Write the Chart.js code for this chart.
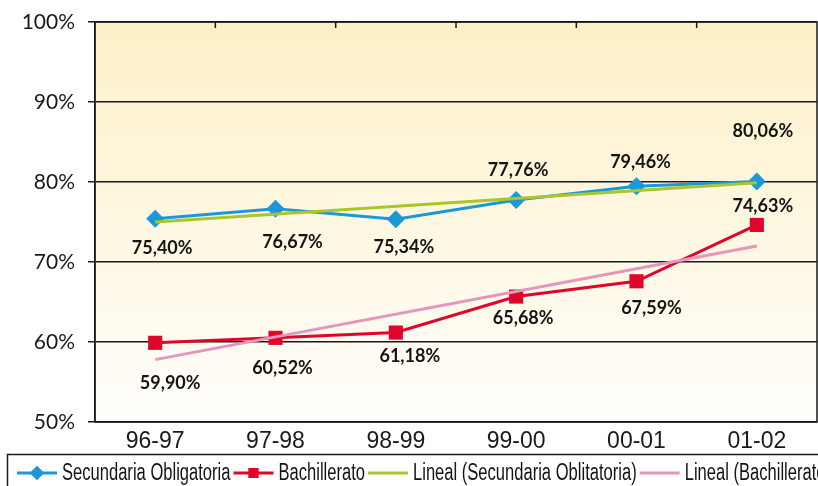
<!DOCTYPE html>
<html>
<head>
<meta charset="utf-8">
<script src="https://cdn.jsdelivr.net/npm/chart.js@4"></script>
<style>
  html, body { margin: 0; padding: 0; background: #fff; }
  #wrap { width: 818px; height: 486px; }
</style>
</head>
<body>
<div id="wrap"><canvas id="chart" width="818" height="486"></canvas></div>
<script>
const CURSOS = ["96-97", "97-98", "98-99", "99-00", "00-01", "01-02"];
const SECUNDARIA = [75.40, 76.67, 75.34, 77.76, 79.46, 80.06];
const BACHILLERATO = [59.90, 60.52, 61.18, 65.68, 67.59, 74.63];
// líneas de tendencia: sólo los extremos
const TEND_SECUNDARIA = [75.0, null, null, null, null, 79.9];
const TEND_BACHILLERATO = [57.8, null, null, null, null, 72.0];
const Y_MIN = 50, Y_MAX = 100, Y_PASO = 10;

const FUENTE = "'Liberation Sans', Arial, sans-serif";

/** Formato español: 75,40% */
function fmtPct(v){
  return v.toFixed(2).replace(".", ",") + "%";
}

/** Fondo degradado amarillo del área de trazado */
const fondo = {
  id: "fondo",
  beforeDraw(chart){
    const { ctx, chartArea: a } = chart;
    const g = ctx.createLinearGradient(0, a.top, 0, a.bottom);
    g.addColorStop(0, "#fdf0c7");
    g.addColorStop(1, "#fffefb");
    ctx.save();
    ctx.fillStyle = g;
    ctx.fillRect(a.left, a.top, a.right - a.left, a.bottom - a.top);
    ctx.restore();
  }
};

/** Marco + marcas superiores entre categorías */
const marco = {
  id: "marco",
  beforeDatasetsDraw(chart){
    const { ctx, chartArea: a, scales: { x } } = chart;
    ctx.save();
    ctx.strokeStyle = "#1a1a1a";
    ctx.lineWidth = 1.5;
    ctx.strokeRect(a.left, a.top, a.right - a.left, a.bottom - a.top);
    ctx.beginPath();
    for (let i = 1; i < CURSOS.length; i++){
      const px = (x.getPixelForValue(i - 1) + x.getPixelForValue(i)) / 2;
      ctx.moveTo(px, a.top);
      ctx.lineTo(px, a.top + 6);
    }
    ctx.stroke();
    ctx.restore();
  }
};

/** Etiquetas de datos con desplazamiento por punto */
const etiquetas = {
  id: "etiquetas",
  afterDatasetsDraw(chart){
    const { ctx } = chart;
    ctx.save();
    ctx.font = "bold 18px Lato, 'DejaVu Sans', sans-serif";
    ctx.fillStyle = "#141414";
    ctx.textAlign = "center";
    ctx.textBaseline = "middle";
    chart.data.datasets.forEach((ds, i) => {
      if (!ds.desplaz) return;
      const meta = chart.getDatasetMeta(i);
      meta.data.forEach((pt, j) => {
        const [dx, dy] = ds.desplaz[j];
        ctx.fillText(fmtPct(ds.data[j]), pt.x + dx, pt.y + dy);
      });
    });
    ctx.restore();
  }
};

/** Leyenda con recuadro, al estilo de Excel (texto estrechado) */
const leyenda = {
  id: "leyenda",
  afterDraw(chart){
    const { ctx } = chart;
    const top = 454, cy = 473;
    const estrecho = 0.72;
    ctx.save();
    ctx.strokeStyle = "#1a1a1a";
    ctx.lineWidth = 1.5;
    ctx.strokeRect(7.5, top + 0.5, 840, 40);
    ctx.font = "23px " + FUENTE;
    ctx.textBaseline = "middle";
    ctx.textAlign = "left";
    let x = 17;
    chart.data.datasets.slice().sort((a, b) => a.leyendaOrden - b.leyendaOrden).forEach(ds => {
      ctx.strokeStyle = ds.borderColor;
      ctx.lineWidth = 3;
      ctx.beginPath();
      ctx.moveTo(x, cy);
      ctx.lineTo(x + 40, cy);
      ctx.stroke();
      if (ds.pointRadius > 0){
        ctx.fillStyle = ds.borderColor;
        Chart.helpers.drawPoint(ctx, { pointStyle: ds.pointStyle, radius: 7, borderWidth: 0 }, x + 20, cy);
        ctx.fill();
      }
      x += 45;
      ctx.save();
      ctx.translate(x, cy + 1);
      ctx.scale(estrecho, 1);
      ctx.fillStyle = "#141414";
      ctx.fillText(ds.label, 0, 0);
      ctx.restore();
      x += ctx.measureText(ds.label).width * estrecho + 3;
    });
    ctx.restore();
  }
};

new Chart(document.getElementById("chart"), {
  type: "line",
  data: {
    labels: CURSOS,
    datasets: [
      {
        label: "Secundaria Obligatoria",
        data: SECUNDARIA,
        borderColor: "#1c98d8",
        backgroundColor: "#1c98d8",
        borderWidth: 3,
        pointStyle: "rectRot",
        pointRadius: 9,
        pointBorderWidth: 0,
        tension: 0,
        order: 2,
        leyendaOrden: 0,
        desplaz: [[7, 29], [17, 34], [8, 28], [2, -30], [4, -24], [6, -50]]
      },
      {
        label: "Bachillerato",
        data: BACHILLERATO,
        borderColor: "#e0062b",
        backgroundColor: "#e0062b",
        borderWidth: 3,
        pointStyle: "rect",
        pointRadius: 10,
        pointBorderWidth: 0,
        tension: 0,
        order: 2,
        leyendaOrden: 1,
        desplaz: [[15, 40], [7, 30], [14, 24], [7, 22], [15, 27], [6, -19]]
      },
      {
        label: "Lineal (Secundaria Oblitatoria)",
        data: TEND_SECUNDARIA,
        borderColor: "#a9c72b",
        borderWidth: 3,
        pointRadius: 0,
        spanGaps: true,
        order: 1,
        leyendaOrden: 2
      },
      {
        label: "Lineal (Bachillerato)",
        data: TEND_BACHILLERATO,
        borderColor: "#e596bd",
        borderWidth: 3,
        pointRadius: 0,
        spanGaps: true,
        order: 1,
        leyendaOrden: 3
      }
    ]
  },
  options: {
    responsive: false,
    animation: false,
    // sin relleno automático: el área de trazado llega hasta el borde derecho
    layout: { autoPadding: false, padding: { top: 22, right: 1, bottom: 32, left: 0 } },
    plugins: {
      legend: { display: false },
      tooltip: { enabled: false },
      title: { display: false }
    },
    scales: {
      x: {
        offset: true,
        grid: { display: false, drawTicks: false },
        border: { display: false },
        ticks: {
          padding: 6,
          color: "#1a1a1a",
          font: { family: FUENTE, size: 23 },
          maxRotation: 0
        },
        afterFit(scale){
          scale.height = 32;
          scale.paddingLeft = 0;
          scale.paddingRight = 0;
        }
      },
      y: {
        min: Y_MIN,
        max: Y_MAX,
        grid: { color: "#1a1a1a", lineWidth: 1.5, tickLength: 7, tickColor: "#1a1a1a" },
        border: { display: true, color: "#1a1a1a", width: 1.5 },
        ticks: {
          stepSize: Y_PASO,
          padding: 13,
          color: "#1a1a1a",
          font: { family: "Lato, 'DejaVu Sans', sans-serif", size: 21 },
          callback: v => v + "%"
        },
        afterFit(scale){
          scale.width = 95;
          scale.paddingTop = 0;
          scale.paddingBottom = 0;
        }
      }
    }
  },
  plugins: [fondo, marco, etiquetas, leyenda]
});
</script>
</body>
</html>
